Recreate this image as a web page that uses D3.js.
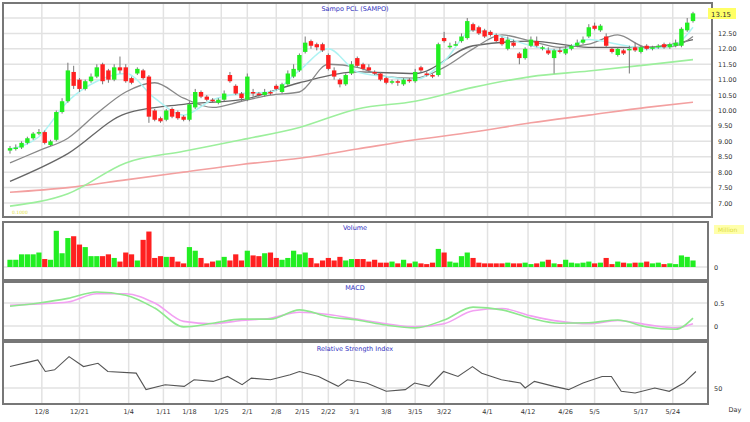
<!DOCTYPE html>
<html><head><meta charset="utf-8">
<script src="https://cdn.jsdelivr.net/npm/d3@7"></script>
<style>body{margin:0;background:#fff}svg{font-family:"DejaVu Sans",sans-serif}</style>
</head><body><div id="vis"></div>
<script>
const opens = [8.70,8.75,8.80,8.95,9.10,9.25,9.30,8.88,9.05,9.95,10.30,11.25,11.00,10.70,10.95,11.10,11.50,11.30,11.00,11.40,11.40,11.05,11.20,11.30,11.10,10.00,9.75,9.70,10.05,9.95,9.80,9.70,10.10,10.60,10.45,10.35,10.25,10.35,11.15,10.80,10.55,10.35,10.60,10.55,10.50,10.60,10.80,10.60,10.85,11.10,11.30,11.90,12.25,12.15,12.15,11.80,11.30,11.00,10.85,11.20,11.70,11.50,11.40,11.25,11.20,11.05,10.90,10.95,10.85,11.00,10.95,11.40,11.20,11.15,11.15,12.35,12.05,12.15,12.25,12.35,12.80,12.70,12.60,12.55,12.45,12.35,12.00,12.20,11.85,11.70,12.10,12.25,12.05,11.95,11.70,11.95,11.85,12.00,12.10,12.20,12.40,12.75,12.60,12.40,12.00,11.80,11.95,11.95,12.05,11.90,12.10,12.00,12.05,12.15,12.05,12.10,12.10,12.60,12.90];
const closes = [8.78,8.80,8.95,9.10,9.25,9.30,8.95,9.00,9.95,10.30,11.30,10.80,10.70,10.95,11.10,11.40,10.95,11.00,11.40,11.30,10.95,10.90,11.35,11.05,9.80,9.70,9.65,10.00,9.80,9.75,9.70,10.20,10.60,10.45,10.35,10.30,10.35,10.55,10.95,10.55,10.40,11.10,10.55,10.50,10.60,10.55,10.70,10.85,11.20,11.35,11.80,12.20,12.10,12.05,11.95,11.35,11.10,10.85,11.15,11.50,11.45,11.35,11.30,11.20,11.00,10.90,10.95,10.90,11.00,10.95,11.25,11.30,11.15,11.10,12.15,12.25,12.10,12.15,12.40,12.90,12.60,12.50,12.40,12.45,12.25,12.15,12.30,12.10,11.70,12.00,12.30,12.10,12.05,11.85,11.95,11.90,12.00,12.10,12.20,12.30,12.70,12.65,12.75,12.10,11.90,12.00,11.85,12.00,11.95,12.05,12.00,12.05,12.10,12.05,12.15,12.20,12.65,12.85,13.15];
const highs = [8.85,8.9,9.0,9.15,9.3,9.4,9.35,9.05,10.0,10.4,11.55,11.45,11.05,11.0,11.2,11.5,11.55,11.35,11.5,11.75,11.5,11.1,11.4,11.35,11.15,10.05,9.8,10.05,10.1,10.0,9.85,10.3,10.7,10.65,10.5,10.4,10.4,10.65,11.25,10.85,10.6,11.2,10.7,10.6,10.7,10.65,10.85,10.9,11.3,11.5,11.85,12.4,12.3,12.2,12.2,11.85,11.4,11.05,11.2,11.6,11.75,11.55,11.5,11.3,11.25,11.1,11.0,11.0,11.05,11.05,11.35,11.45,11.25,11.2,12.2,12.55,12.2,12.25,12.5,13.0,12.85,12.75,12.65,12.6,12.5,12.4,12.4,12.3,11.9,12.05,12.4,12.4,12.1,12.05,12.0,12.05,12.1,12.15,12.3,12.4,12.8,12.85,12.8,12.5,12.05,12.05,12.0,12.1,12.2,12.1,12.15,12.1,12.15,12.2,12.2,12.3,12.7,13.0,13.2];
const lows = [8.6,8.7,8.75,8.9,9.05,9.2,8.9,8.85,9.0,9.9,10.25,10.7,10.6,10.65,10.9,11.05,10.85,10.9,10.95,11.2,10.9,10.85,11.15,11.0,9.6,9.65,9.6,9.65,9.75,9.7,9.65,9.65,10.05,10.4,10.3,10.25,10.2,10.3,10.9,10.5,10.3,10.3,10.45,10.45,10.45,10.5,10.65,10.55,10.8,11.05,11.25,11.85,12.0,11.95,11.9,11.3,11.0,10.75,10.8,11.15,11.4,11.3,11.25,11.15,10.95,10.85,10.85,10.8,10.8,10.9,10.9,11.25,11.1,11.05,11.1,12.2,12.0,12.1,12.2,12.3,12.55,12.45,12.35,12.4,12.2,12.1,11.95,12.05,11.5,11.65,12.05,12.05,11.95,11.8,11.2,11.85,11.8,11.95,12.05,12.15,12.35,12.6,12.55,12.05,11.85,11.75,11.8,11.2,11.9,11.85,11.95,11.95,12.0,12.0,12.0,12.05,12.05,12.55,12.85];
const volumes = [20,20,35,35,35,40,22,20,100,38,80,85,62,55,30,30,30,35,25,15,40,35,18,75,98,25,30,28,28,15,10,55,45,25,10,15,18,28,18,35,18,45,32,30,38,40,25,20,25,45,35,40,25,10,18,25,18,28,18,22,22,22,15,20,12,12,15,10,20,10,15,10,8,12,50,40,15,12,30,40,25,12,10,10,10,10,12,10,10,12,8,10,15,20,10,8,20,12,10,12,15,10,12,25,8,15,12,10,12,12,15,10,12,8,10,8,32,28,18];

// moving averages at fixed bar steps
const maCyanIdx = [0,5,10,15,20,25,30,35,40,45,50,55,60,65,70,75,80,85,90,95,100,105,110,115,118];
const maCyan = [8.75,9.15,10.3,10.95,11.2,10.4,9.85,10.35,10.55,10.6,11.3,12.0,11.25,11.1,11.0,11.6,12.6,12.4,12.1,11.95,12.3,12.15,12.0,12.15,12.7];
const maFast = [8.3,8.7,9.1,9.9,10.6,10.9,10.4,10.1,10.3,10.5,10.6,11.5,11.4,11.1,11.05,11.4,12.0,12.45,12.25,12.05,12.15,12.45,12.05,12.1,12.4];
const maLongIdx = [0,10,20,30,40,50,60,70,80,90,100,110,118];
const maSlow = [7.7,8.6,9.9,10.2,10.35,10.9,11.25,11.2,12.1,12.25,12.05,12.05,12.3];
const ma50 = [6.9,7.3,8.3,8.68,9.05,9.45,10.05,10.3,10.75,11.1,11.28,11.48,11.65];
const ma200 = [7.35,7.5,7.75,8.0,8.25,8.45,8.75,9.05,9.3,9.6,9.85,10.1,10.27];

const macdIdx = [0,5,10,15,20,25,30,35,40,45,50,55,60,65,70,75,80,85,90,95,100,105,110,115,118];
const macd = [0.43,0.5,0.6,0.74,0.67,0.39,-0.02,0.06,0.15,0.15,0.35,0.2,0.13,0.02,-0.04,0.13,0.41,0.35,0.17,0.06,0.07,0.13,-0.02,-0.07,0.17];
const signal = [0.45,0.48,0.52,0.7,0.7,0.5,0.1,0.05,0.12,0.17,0.3,0.25,0.15,0.05,-0.02,0.05,0.33,0.38,0.22,0.1,0.05,0.12,0.03,-0.04,0.05];

const rsiIdx = [0,3.6,4.8,6.1,7.7,10.2,12.7,15.2,16.9,21.8,23.5,26.8,30.1,31.8,35.1,37.6,40.1,41.7,45,48.4,50,53.3,56.7,58.3,61.6,65,68.3,69.9,72.4,74.9,77.4,79.9,81.5,84.9,88.2,89,90.6,94,96.5,99,102.3,103.9,105.6,108,111.4,113.9,116.4,118.5];
const rsi = [63,66,67,60,61,69,63,65,60,59,49,52,51,55,54,57,52,56,55,58,60,57,51,55,53,48,49,53,51,60,57,63,59,55,53,50,54,51,49,53,57,57,48,47,50,48,53,60];

const tickIdx = [5.5,12,20.5,26.5,31,36.5,41,46,50.5,55,59.5,65,70,75,82.5,89.5,96,101,109,114.5];
const tickLabels = ["12/8","12/21","1/4","1/11","1/18","1/25","2/1","2/8","2/15","2/22","3/1","3/8","3/15","3/22","4/1","4/12","4/26","5/5","5/17","5/24"];
const priceTicks = [7,7.5,8,8.5,9,9.5,10,10.5,11,11.5,12,12.5,13];

const W = 750, H = 422;
const svg = d3.select("#vis").append("svg").attr("width", W).attr("height", H);

const x = d3.scaleLinear().domain([0, 118]).range([10, 693]);
const y = d3.scaleLinear().domain([7, 13]).range([203, 18]);
const yVol = d3.scaleLinear().domain([0, 105]).range([267, 229]);
const yMacd = d3.scaleLinear().domain([0, 0.5]).range([326, 303]);
const yRsi = d3.scaleLinear().domain([50, 70]).range([388, 355]);

const panels = [[3, 3, 709, 214], [3, 222, 705, 58], [3, 282, 705, 58], [3, 342, 705, 62]];
const grid = svg.append("g");
panels.forEach(p => {
  grid.selectAll(null).data(tickIdx).enter().append("line")
    .attr("x1", d => x(d)).attr("x2", d => x(d))
    .attr("y1", p[1]).attr("y2", p[1] + p[3])
    .attr("stroke", "#e2e2e2").attr("stroke-width", 1.5);
});
grid.selectAll(null).data(priceTicks).enter().append("line")
  .attr("x1", 3).attr("x2", 712).attr("y1", d => y(d)).attr("y2", d => y(d))
  .attr("stroke", "#e2e2e2").attr("stroke-width", 1.5);
[[yVol(0)], [yMacd(0)], [yMacd(0.5)], [yRsi(50)]].forEach(v => {
  grid.append("line").attr("x1", 3).attr("x2", 708).attr("y1", v[0]).attr("y2", v[0])
    .attr("stroke", "#e2e2e2").attr("stroke-width", 1.5);
});

const idx = d3.range(closes.length);
const line = (ys, xs) => d3.line().x((d, i) => x(xs[i])).y(d => ys(d)).curve(d3.curveMonotoneX);

const g = svg.append("g");
g.append("path").datum(ma200).attr("d", line(y, maLongIdx)).attr("fill", "none").attr("stroke", "#f3a0a0").attr("stroke-width", 1.6);
g.append("path").datum(ma50).attr("d", line(y, maLongIdx)).attr("fill", "none").attr("stroke", "#9cef9c").attr("stroke-width", 1.6);
g.append("path").datum(maSlow).attr("d", line(y, maLongIdx)).attr("fill", "none").attr("stroke", "#666").attr("stroke-width", 1.3);
g.append("path").datum(maFast).attr("d", line(y, maCyanIdx)).attr("fill", "none").attr("stroke", "#888").attr("stroke-width", 1.3);
g.append("path").datum(maCyan).attr("d", line(y, maCyanIdx)).attr("fill", "none").attr("stroke", "#aef3f3").attr("stroke-width", 1.5);

const col = i => closes[i] >= opens[i] ? "#22ee22" : "#ff2020";
g.selectAll(".wick").data(idx).enter().append("line")
  .attr("x1", i => x(i)).attr("x2", i => x(i))
  .attr("y1", i => y(highs[i])).attr("y2", i => y(lows[i]))
  .attr("stroke", "#777").attr("stroke-width", 1);
g.selectAll(".body").data(idx).enter().append("rect")
  .attr("x", i => x(i) - 2.2).attr("width", 4.4)
  .attr("y", i => y(Math.max(opens[i], closes[i])))
  .attr("height", i => Math.max(1.5, Math.abs(y(opens[i]) - y(closes[i]))))
  .attr("fill", col);

svg.append("g").selectAll("rect").data(idx).enter().append("rect")
  .attr("x", i => x(i) - 2.6).attr("width", 5.2)
  .attr("y", i => yVol(volumes[i])).attr("height", i => yVol(0) - yVol(volumes[i]))
  .attr("fill", col);

svg.append("path").datum(signal).attr("d", line(yMacd, macdIdx)).attr("fill", "none").attr("stroke", "#f2a0f2").attr("stroke-width", 1.6);
svg.append("path").datum(macd).attr("d", line(yMacd, macdIdx)).attr("fill", "none").attr("stroke", "#8ee88e").attr("stroke-width", 1.6);
svg.append("path").datum(rsi).attr("d", d3.line().x((d, i) => x(rsiIdx[i])).y(d => yRsi(d))).attr("fill", "none").attr("stroke", "#555").attr("stroke-width", 1.1);

panels.forEach(p => {
  svg.append("rect").attr("x", p[0]).attr("y", p[1]).attr("width", p[2]).attr("height", p[3])
    .attr("fill", "none").attr("stroke", "#777").attr("stroke-width", 2);
});

const t = (tx, ty, s, o) => svg.append("text").attr("x", tx).attr("y", ty).text(s)
  .attr("font-size", (o && o.fs) || 6.5).attr("fill", (o && o.fill) || "#333")
  .attr("text-anchor", (o && o.anchor) || "start");

svg.append("g").selectAll("text").data(priceTicks.slice(0, -1)).enter().append("text")
  .attr("x", 718).attr("y", d => y(d) + 2.5).text(d => d.toFixed(2))
  .attr("font-size", 6.5).attr("fill", "#333");
svg.append("rect").attr("x", 708).attr("y", 8).attr("width", 28).attr("height", 11).attr("fill", "#ffff66");
t(711, 16.5, closes[closes.length - 1].toFixed(2), { fs: 7 });
svg.append("rect").attr("x", 714).attr("y", 225).attr("width", 30).attr("height", 9).attr("fill", "#ffffaa");
t(718, 232, "Million", { fs: 6, fill: "#dddd40" });
t(12, 214, "0.1000", { fs: 4.5, fill: "#dddd40" });

t(355, 11, "Sampo PCL (SAMPO)", { fill: "#3030c0", anchor: "middle" });
t(355, 230, "Volume", { fill: "#3030c0", anchor: "middle" });
t(355, 290, "MACD", { fill: "#3030c0", anchor: "middle" });
t(355, 351, "Relative Strength Index", { fill: "#3030c0", anchor: "middle" });
t(714, yVol(0) + 2.5, "0");
t(714, yMacd(0.5) + 2.5, "0.5");
t(714, yMacd(0) + 2.5, "0");
t(714, yRsi(50) + 2.5, "50");
t(735, 412, "Day", { anchor: "middle" });

svg.append("g").selectAll("text").data(tickIdx).enter().append("text")
  .attr("x", d => x(d)).attr("y", 414).text((d, i) => tickLabels[i])
  .attr("font-size", 6.5).attr("fill", "#333").attr("text-anchor", "middle");
</script></body></html>
